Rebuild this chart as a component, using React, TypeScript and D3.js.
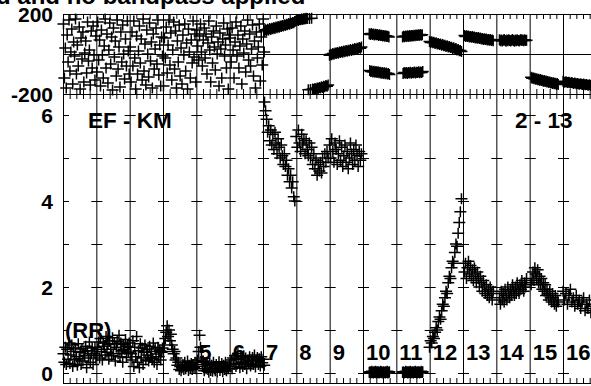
import React, { useRef, useEffect } from 'react';
import * as d3 from 'd3';

// scan time ranges (grid units, one vertical grid line per unit)
const scanStart = [0, 1, 2, 3, 4, 5, 6.03, 6.98, 7.98, 9.18, 10.18, 10.98, 12.03, 13.08, 14.03, 14.98];
const scanEnd = [1, 2, 3, 4, 5, 6.05, 6.97, 7.97, 8.97, 9.8, 10.8, 11.97, 12.92, 13.92, 14.87, 16.3];
const scanLabels = [5, 6, 7, 8, 9, 10, 11, 12, 13, 14, 15, 16];

const ampTicks = [0, 1, 2, 3, 4, 5, 6];
const ampLabels = [0, 2, 4, 6];
const phaseLabels = [-200, 200];

// amplitudes per scan
const amp01 = [0.45, 0.25, 0.6, 0.2, 0.55, 0.32, 0.7, 0.22, 0.42, 0.65, 0.15, 0.5, 0.3, 0.58, 0.38, 0.18, 0.68, 0.33, 0.48, 0.2, 0.56, 0.28, 0.5, 0.4, 0.62, 0.12, 0.52, 0.35, 0.72, 0.25, 0.45, 0.58, 0.2, 0.44, 0.6, 0.35];
const amp02 = [0.4, 0.55, 0.72, 0.35, 0.8, 0.5, 0.3, 0.7, 0.62, 0.42, 0.85, 0.48, 0.66, 0.32, 0.75, 0.55, 0.4, 0.82, 0.45, 0.68, 0.28, 0.6, 0.74, 0.45, 0.88, 0.38, 0.7, 0.52, 0.25, 0.66, 0.55, 0.78, 0.36, 0.62, 0.48, 0.7];
const amp03 = [0.6, 0.45, 0.3, 0.75, 0.15, 0.6, 0.38, 0.85, 0.25, 0.52, 0.12, 0.68, 0.35, 0.58, 0.2, 0.48, 0.65, 0.3, 0.55, 0.42, 0.28, 0.62, 0.36, 0.5, 0.34, 0.7, 0.25, 0.56, 0.44, 0.2, 0.6, 0.38, 0.52, 0.3, 0.48, 0.58];
const amp04 = [0.5, 0.65, 0.8, 0.95, 1.1, 0.85, 1.0, 0.75, 0.9, 0.65, 0.55, 0.45, 0.5, 0.3, 0.35, 0.18, 0.25, 0.08, 0.15, 0.05, 0.12, 0.2, 0.08, 0.25, 0.1, 0.15, 0.28, 0.06, 0.18, 0.1, 0.22, 0.08, 0.2, 0.12, 0.25, 0.1];
const amp05 = [0.2, 0.3, 0.5, 0.88, 0.6, 0.35, 0.15, 0.28, 0.05, 0.2, 0.1, 0.25, 0.08, 0.02, 0.22, 0.06, 0.18, 0.04, 0.25, 0.1, 0.05, 0.2, 0.02, 0.15, 0.26, 0.06, 0.12, 0.22, 0.03, 0.18, 0.08, 0.25, 0.05, 0.15, 0.1, 0.2];
const amp06 = [0.15, 0.3, 0.1, 0.35, 0.2, 0.4, 0.15, 0.32, 0.45, 0.22, 0.12, 0.38, 0.25, 0.15, 0.4, 0.2, 0.35, 0.1, 0.3, 0.22, 0.38, 0.16, 0.28, 0.36, 0.2, 0.42, 0.14, 0.3, 0.36, 0.2, 0.33, 0.16, 0.38, 0.24, 0.32, 0.18];
const amp07 = [6.3, 6.1, 5.9, 5.6, 5.75, 5.4, 5.65, 5.3, 5.55, 5.2, 5.6, 5.35, 5.1, 5.45, 5.25, 5.0, 5.3, 5.05, 4.85, 5.1, 4.8, 4.95, 4.6, 4.75, 4.45, 4.6, 4.3, 4.45, 4.1, 4.0];
const amp08 = [5.5, 5.25, 5.65, 5.35, 5.15, 5.55, 5.3, 5.45, 5.1, 5.4, 5.2, 5.05, 5.35, 5.0, 5.25, 4.85, 5.1, 4.75, 4.95, 4.6, 4.85, 4.7, 4.9, 4.65, 5.0, 4.8, 5.1, 4.9, 5.15, 5.0];
const amp09 = [5.3, 5.0, 5.45, 5.15, 4.9, 5.35, 5.2, 4.85, 5.1, 5.4, 4.95, 5.25, 4.8, 5.05, 5.3, 4.9, 5.15, 4.75, 5.0, 5.35, 5.1, 4.85, 5.2, 4.95, 5.3, 5.05, 4.8, 5.15, 4.95, 5.1];
const amp10 = [0.02, 0.01, 0.03, 0, 0.02, 0.04, 0.01, 0.02, 0, 0.03, 0.02, 0.01, 0.04, 0.02, 0, 0.03, 0.01, 0.02, 0.03, 0, 0.02, 0.01, 0.04, 0.02, 0.03, 0, 0.01, 0.02, 0.03, 0.01, 0.02, 0, 0.03, 0.01, 0.02, 0.04, 0, 0.02, 0.01, 0.03];
const amp11 = [0.01, 0.03, 0.02, 0, 0.02, 0.01, 0.04, 0.02, 0.01, 0.03, 0, 0.02, 0.03, 0.01, 0.02, 0.04, 0, 0.02, 0.01, 0.03, 0.02, 0, 0.03, 0.01, 0.02, 0.04, 0.01, 0.02, 0, 0.03, 0.01, 0.02, 0.03, 0, 0.02, 0.01, 0.04, 0.02, 0.01, 0.03];
const amp12 = [0.6, 0.75, 0.7, 0.85, 0.8, 0.95, 1.05, 1.0, 1.2, 1.3, 1.25, 1.45, 1.6, 1.55, 1.75, 1.9, 1.85, 2.1, 2.25, 2.2, 2.45, 2.6, 2.55, 2.8, 3.0, 2.95, 3.25, 3.5, 3.75, 4.05];
const amp13 = [2.35, 2.55, 2.2, 2.45, 2.6, 2.3, 2.5, 2.25, 2.4, 2.15, 2.45, 2.3, 2.1, 2.35, 2.2, 2.0, 2.25, 2.1, 1.9, 2.15, 2.0, 1.85, 2.05, 1.8, 1.95, 1.75, 2.0, 1.85, 1.7, 1.9];
const amp14 = [1.75, 1.6, 1.9, 1.7, 1.85, 1.65, 1.95, 1.8, 1.7, 2.0, 1.85, 1.75, 1.95, 1.8, 2.05, 1.9, 1.8, 2.0, 1.85, 2.1, 1.95, 1.85, 2.05, 1.95, 2.15, 2.0, 1.9, 2.1, 2.0, 2.2];
const amp15 = [2.05, 2.2, 2.35, 2.15, 2.45, 2.3, 2.2, 2.4, 2.1, 2.25, 2.05, 2.2, 1.95, 2.1, 1.9, 2.05, 1.8, 1.95, 1.85, 1.7, 1.9, 1.75, 1.65, 1.85, 1.7, 1.6, 1.8, 1.55, 1.7, 1.65];
const amp16 = [1.9, 1.7, 1.85, 1.6, 1.8, 1.95, 1.65, 1.75, 1.55, 1.8, 1.6, 1.7, 1.5, 1.65, 1.75, 1.45, 1.6, 1.5, 1.7, 1.4, 1.55, 1.45, 1.6, 1.35, 1.5, 1.4, 1.55, 1.3, 1.45, 1.4];

// phases per scan (degrees)
const ph01 = [150, -120, 30, -170, 95, -40, 170, -85, 10, 125, -150, 60, -10, 175, -100, 45, -60, 135, -175, 80, -25, 110, -140, 5, 65, -95, 160, -35, 20, -155, 115, -70, 140, -5, -130, 90];
const ph02 = [-90, 160, -30, 70, -160, 120, -5, -120, 40, 175, -70, 100, -145, 20, 155, -50, 85, -180, 130, -15, 65, -110, 170, -75, 35, -165, 110, -40, 145, 0, -125, 75, -60, 165, 15, -100];
const ph03 = [35, -140, 110, -60, 165, -20, -175, 90, -100, 15, 140, -45, 75, -130, 175, -85, 50, -155, 120, 0, -115, 155, -35, 60, -170, 100, -75, 25, 130, -50, 170, -105, 45, -160, 85, -10];
const ph04 = [-160, 80, -20, 135, -95, 45, 170, -55, 105, -130, 20, 160, -75, 115, -170, 65, -40, 145, -110, 30, -150, 95, -5, 150, -85, 55, -175, 125, 10, -120, 70, -45, 165, -15, 100, -140];
const ph05 = [120, 40, -30, 90, 150, 10, -60, 70, 130, -20, 100, -100, 55, 165, 20, -140, 85, -45, 115, 35, -80, 140, 0, 60, -160, 105, 25, -120, 75, 155, -10, 45, -70, 125, -175, 95];
const ph06 = [80, -40, 130, 20, -120, 60, 160, -10, 95, -70, 40, 140, -150, 75, 5, 115, -90, 50, 170, -30, 100, -60, 25, 145, -110, 65, -170, 110, -20, 35, 150, -135, 85, -55, 175, 10];
const ph07 = [116, 121, 118, 124, 120, 127, 123, 129, 126, 132, 128, 135, 131, 137, 134, 140, 137, 143, 140, 146, 143, 149, 146, 152, 149, 155, 152, 158, 156, 162];
const ph08 = [166, 170, 168, 173, 171, 175, 173, 177, 175, 179, 177, -179, 178, -177, 179, -175, -178, -172, -176, -170, -173, -167, -170, -164, -167, -161, -164, -158, -161, -155];
const ph09 = [-6, -1, -4, 2, -1, 5, 2, 8, 4, 10, 7, 12, 9, 15, 11, 17, 14, 19, 16, 22, 18, 24, 21, 27, 23, 29, 26, 32, 29, 35];
const ph10 = [101, -83, 97, -88, 103, -85, 98, -90, 100, -86, 95, -91, 99, -88, 96, -93, 97, -89, 93, -94, 96, -91, 92, -96, 94, -92, 90, -97, 93, -94, 89, -99, 91, -95, 87, -100, 89, -97, 85, -102];
const ph11 = [85, -97, 89, -93, 86, -96, 90, -92, 87, -97, 91, -93, 88, -95, 92, -91, 89, -96, 93, -92, 90, -94, 94, -90, 91, -95, 95, -91, 92, -93, 96, -89, 93, -94, 97, -90, 94, -92, 96, -88];
const ph12 = [63, 58, 61, 56, 59, 53, 56, 50, 53, 47, 50, 44, 47, 41, 44, 38, 41, 35, 38, 32, 34, 28, 31, 24, 27, 20, 23, 16, 18, 12];
const ph13 = [93, 88, 91, 87, 90, 85, 88, 84, 87, 82, 85, 80, 83, 79, 82, 77, 80, 75, 78, 73, 76, 72, 75, 70, 73, 69, 72, 67, 70, 66];
const ph14 = [71, 66, 70, 65, 69, 72, 67, 64, 70, 66, 71, 68, 65, 69, 72, 67, 64, 70, 66, 71, 68, 65, 69, 72, 67, 70, 66, 71, 68, 69];
const ph15 = [-116, -121, -119, -124, -121, -126, -124, -129, -126, -131, -128, -133, -131, -136, -133, -138, -135, -140, -138, -143, -140, -145, -142, -147, -144, -149, -146, -151, -148, -153];
const ph16 = [-136, -141, -139, -143, -141, -145, -143, -147, -145, -149, -147, -151, -149, -152, -150, -154, -152, -156, -154, -157, -155, -159, -157, -160, -158, -162, -160, -163, -161, -165];

const ampByScan = [amp01, amp02, amp03, amp04, amp05, amp06, amp07, amp08, amp09, amp10, amp11, amp12, amp13, amp14, amp15, amp16];
const phaseByScan = [ph01, ph02, ph03, ph04, ph05, ph06, ph07, ph08, ph09, ph10, ph11, ph12, ph13, ph14, ph15, ph16];

const W = 591;
const H = 386;

export default function App() {
    const ref = useRef(null);

    useEffect(() => {
        if (!ref.current) return;
        const svg = d3.select(ref.current);
        svg.selectAll('*').remove();

        const step = 100 / 3;
        const x = d3.scaleLinear().domain([0, 17]).range([63, 63 + 17 * step]);
        const yPh = d3.scaleLinear().domain([-200, 200]).range([94, 14]);
        const yAmp = d3.scaleLinear().domain([0, 6]).range([373, 115]);
        const top = yPh(200), mid = yPh(-200), bottom = yAmp(-10 / 43);
        const font = "'Liberation Sans', Arial, Helvetica, sans-serif";

        svg.append('rect').attr('width', W).attr('height', H).attr('fill', '#fff');

        // points
        const pts: { t: number; a: number; p: number }[] = [];
        ampByScan.forEach((amps, s) => {
            const n = amps.length;
            amps.forEach((a, i) => {
                const t = scanStart[s] + (i + 0.5) * (scanEnd[s] - scanStart[s]) / n;
                pts.push({ t, a, p: phaseByScan[s][i] });
            });
        });
        const cross = (cx: number, cy: number) =>
            `M${cx - 6},${cy}H${cx + 6}M${cx},${cy - 5.5}V${cy + 5.5}`;

        const g = svg.append('g');
        // grid: vertical lines through both panels
        const grid = d3.range(0, 18);
        g.selectAll('line.v').data(grid).enter().append('line')
            .attr('x1', d => x(d) + 0.5).attr('x2', d => x(d) + 0.5)
            .attr('y1', top).attr('y2', bottom)
            .attr('stroke', '#000').attr('stroke-width', 1);
        // horizontal frame lines
        [top, yPh(0), mid, bottom].forEach(yy => {
            g.append('line').attr('x1', x(0)).attr('x2', W + 50)
                .attr('y1', yy + 0.5).attr('y2', yy + 0.5)
                .attr('stroke', '#000').attr('stroke-width', 1);
        });
        // minor ticks
        const minor = d3.range(0, 85).map(i => i / 5).filter(t => Math.abs(t - Math.round(t)) > 1e-6);
        const tickPath = minor.map(t => {
            const xx = x(t) + 0.5;
            return `M${xx},${top}v5M${xx},${mid}v-5M${xx},${mid}v5M${xx},${bottom}v-5`;
        }).join('');
        g.append('path').attr('d', tickPath).attr('stroke', '#000').attr('fill', 'none');
        // amplitude tick dashes at every grid line
        const dash = ampTicks.flatMap(a => grid.map(k => {
            const yy = yAmp(a) + 0.5;
            const x0 = k === 0 ? x(0) : x(k) - 5;
            return `M${x0},${yy}H${x(k) + 6}`;
        })).join('');
        g.append('path').attr('d', dash).attr('stroke', '#000').attr('fill', 'none');

        // data
        g.append('path')
            .attr('d', pts.map(d => cross(x(d.t), yAmp(d.a))).join(''))
            .attr('stroke', '#000').attr('stroke-width', 1.5).attr('fill', 'none');
        g.append('path')
            .attr('d', pts.map(d => cross(x(d.t), yPh(d.p))).join(''))
            .attr('stroke', '#000').attr('stroke-width', 1.5).attr('fill', 'none');

        // axis labels
        const txt = (s: string, tx: number, ty: number, size: number, anchor = 'start') =>
            svg.append('text').text(s).attr('x', tx).attr('y', ty)
                .attr('font-family', font).attr('font-weight', 'bold')
                .attr('font-size', size).attr('text-anchor', anchor).attr('fill', '#000');
        phaseLabels.forEach(p => txt(String(p), 53, yPh(p) + 7.5, 21, 'end'));
        ampLabels.forEach(a => txt(String(a), 53, yAmp(a) + 8, 21, 'end'));
        scanLabels.forEach(n => txt(String(n), x(n - 1) + 3, 360, 22));
        txt('EF - KM', 88, 128, 22.5);
        txt('2 - 13', 515, 128, 22.5);
        txt('(RR)', 65, 338, 22);
        txt('d and no bandpass applied', -4, 4, 24);
    }, []);

    return (
        <svg ref={ref} width={W} height={H}
            style={{ position: 'absolute', left: 0, top: 0, display: 'block' }} />
    );
}
